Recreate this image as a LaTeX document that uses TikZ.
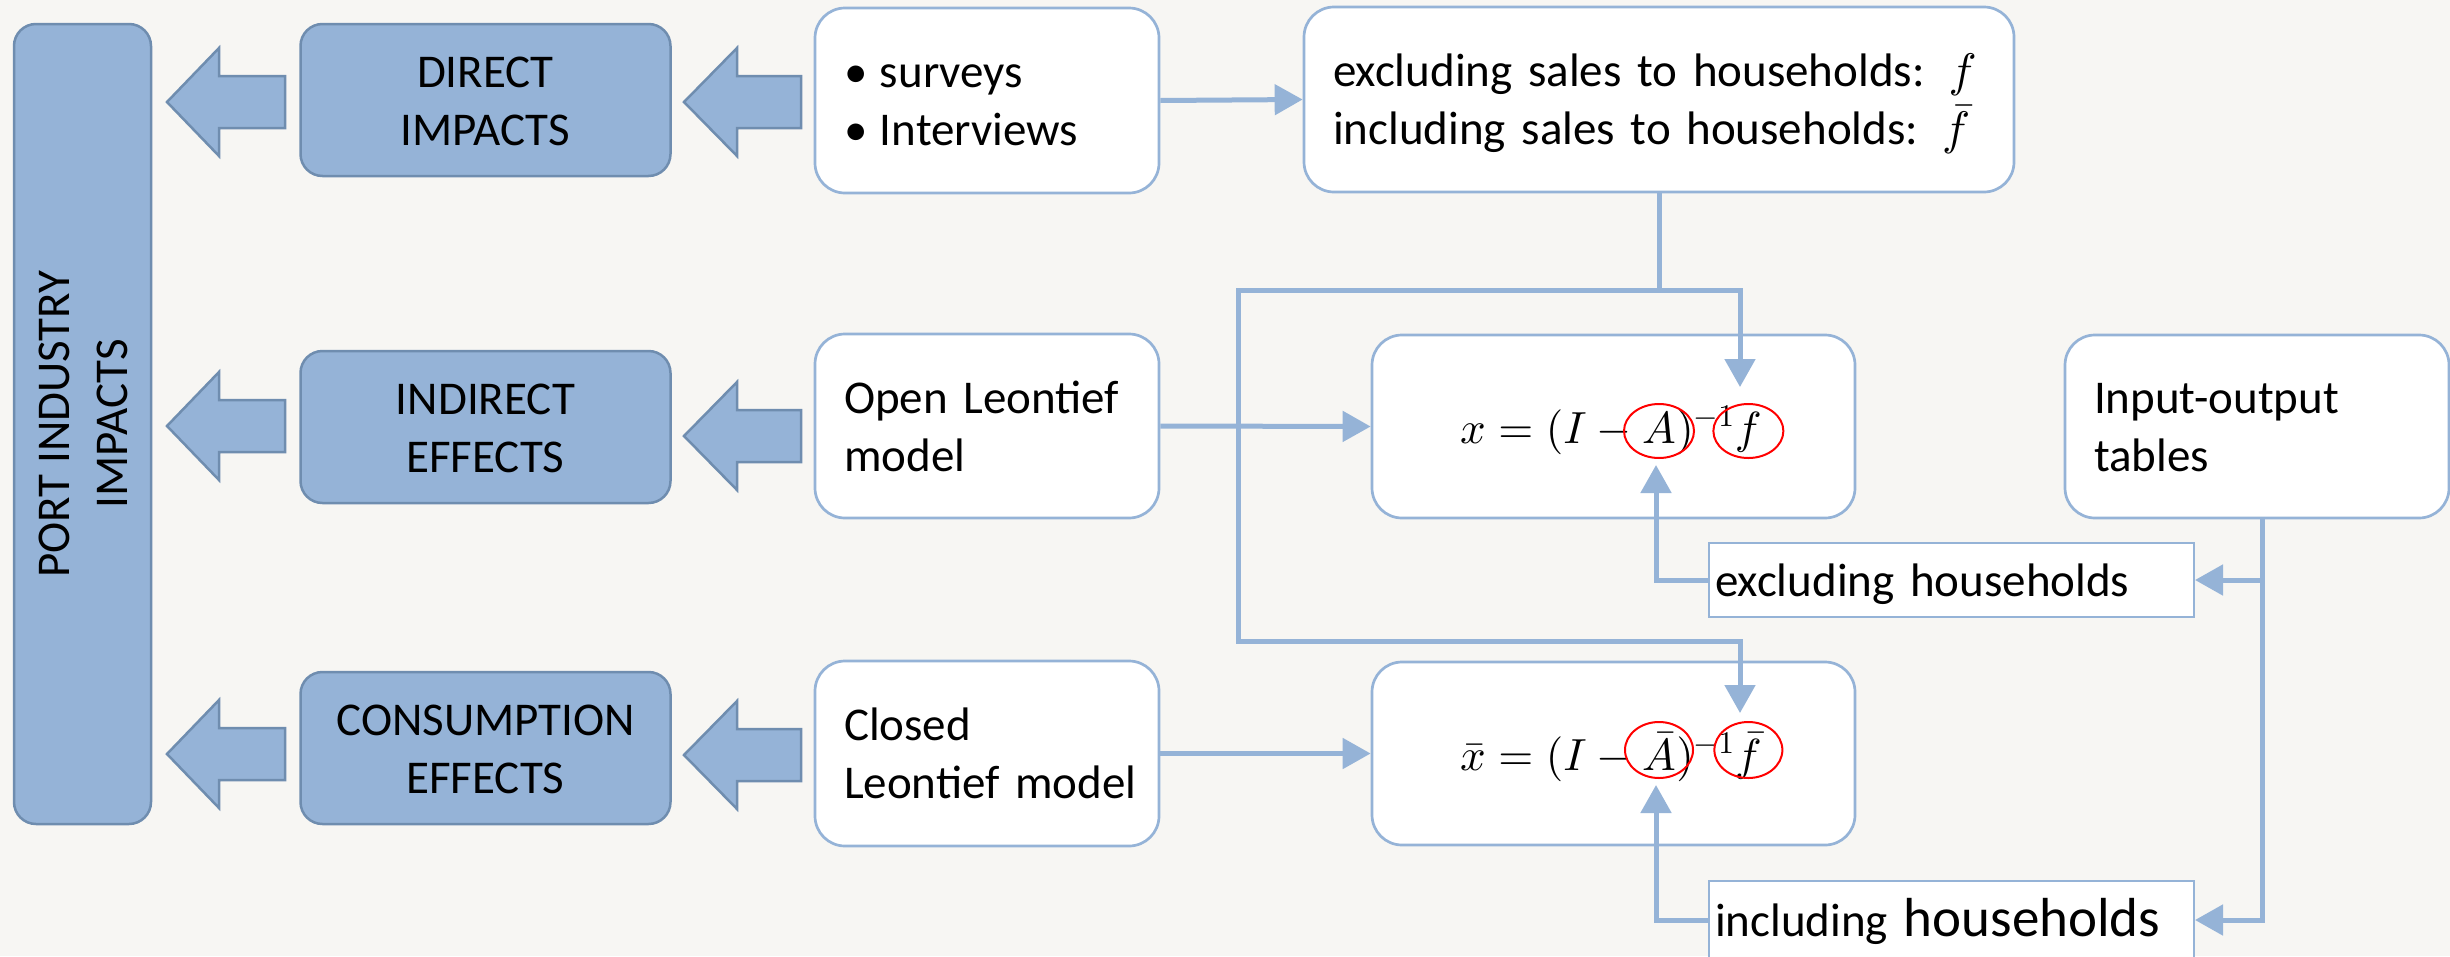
\documentclass[tikz,border=0pt]{standalone}
\usepackage{fontspec}
\setmainfont{Carlito}
\DeclareFontShape{OML}{cmm}{m}{it}{<->cmmi10}{}
\DeclareFontShape{OMS}{cmsy}{m}{n}{<->cmsy10}{}
\DeclareFontShape{OT1}{cmr}{m}{n}{<->cmr10}{}
\DeclareFontShape{OMX}{cmex}{m}{n}{<->cmex10}{}
\usetikzlibrary{arrows.meta}
\definecolor{bg}{HTML}{F7F6F3}
\definecolor{bfill}{HTML}{95B3D7}
\definecolor{bdraw}{HTML}{6F8DAF}
\definecolor{lblue}{HTML}{95B3D7}
\newcommand\ms{\rule[-13pt]{0pt}{58pt}}
\begin{document}
\begin{tikzpicture}[x=1pt,y=-1pt,
  txt/.style={font=\fontsize{47pt}{58pt}\selectfont, text=black},
  bluebox/.style={txt, draw=bdraw, fill=bfill, line width=2.5pt, rounded corners=22pt, align=center, inner sep=0pt},
  whitebox/.style={txt, draw=lblue, fill=white, line width=2.7pt, rounded corners=30pt, inner xsep=29pt, inner ysep=0pt, align=left},
  lab/.style={txt, draw=lblue, fill=white, line width=2pt, inner xsep=6pt, inner ysep=0pt, align=left},
  conn/.style={draw=lblue, line width=5pt},
  arr/.style={conn, -{Triangle[length=28pt,width=30pt]}},
  blockarrow/.style={draw=bdraw, fill=bfill, line width=2.5pt, line join=miter},
  ring/.style={draw=red, line width=2pt},
  mathpart/.style={font=\fontsize{45pt}{56pt}\selectfont, text=black, anchor=base west, inner sep=0pt}
]
\fill[bg] (0,0) rectangle (2450,956);
\useasboundingbox (0,0) rectangle (2450,956);
\clip (0,0) rectangle (2450,956);

% left bar and blue boxes
\node[bluebox, rotate=90, minimum width=800pt, minimum height=137pt] (bar) at (82.5,424) {\ms PORT INDUSTRY\\\ms IMPACTS};
\node[bluebox, minimum width=370pt, minimum height=152pt] (direct) at (485.5,100) {\ms DIRECT\\\ms IMPACTS};
\node[bluebox, minimum width=370pt, minimum height=152pt] (indirect) at (485.5,427) {\ms INDIRECT\\\ms EFFECTS};
\node[bluebox, minimum width=370pt, minimum height=152pt] (consum) at (485.5,748) {\ms CONSUMPTION\\\ms EFFECTS};

% block arrows
\foreach \t/\h/\b/\c in {167/219/285/102, 684/737/801/102, 167/219/285/426, 684/737/801/436, 167/219/285/754, 684/737/801/755}{
  \draw[blockarrow] (\t,\c) -- (\h,\c-54) -- (\h,\c-26) -- (\b,\c-26) -- (\b,\c+26) -- (\h,\c+26) -- (\h,\c+54) -- cycle;
}

% white boxes
\node[whitebox, minimum width=344pt, minimum height=185pt, text width=286pt] (surveys) at (987,100.5) {\ms\makebox[36pt][l]{\textbullet}surveys\\\ms\makebox[36pt][l]{\textbullet}Interviews};
\node[whitebox, minimum width=344pt, minimum height=184pt, text width=286pt] (open) at (987,426) {\ms Open Leontief\\\ms model};
\node[whitebox, minimum width=344pt, minimum height=185pt, text width=286pt] (closed) at (987,753.5) {\ms Closed\\\ms\mbox{Leontief model}};
\node[whitebox, minimum width=710pt, minimum height=185pt, text width=652pt] (top) at (1659,99.5) {\ms excluding sales to households: $f$\\\ms including sales to households: $\bar{f}$};
\node[whitebox, minimum width=483pt, minimum height=183pt, text width=425pt] (form1) at (1613.5,426.5) {};
\node[whitebox, minimum width=483pt, minimum height=183pt, text width=425pt] (form2) at (1613.5,753.5) {};
\node[whitebox, minimum width=384pt, minimum height=183pt, text width=326pt] (io) at (2257,426.5) {\ms Input-output\\\ms tables};
\node[lab, minimum width=485pt, minimum height=74pt, text width=473pt] (excl) at (1951.5,580) {\ms excluding households};
\node[lab, minimum width=485pt, minimum height=78pt, text width=473pt] (incl) at (1951.5,920) {\ms including {\fontsize{55pt}{58pt}\selectfont households}};

% formulas
\node[mathpart] (m1a) at (1460,443) {$x = (I -{}$};
\node[mathpart] (m1A) at (m1a.base east) {$A$};
\node[mathpart] (m1b) at (m1A.base east) {$)^{-1}$};
\node[mathpart] (m1f) at (m1b.base east) {$f$};
\draw[ring] ([yshift=12pt]m1A.base) ellipse [x radius=35, y radius=27];
\draw[ring] ([yshift=12pt]m1f.base) ellipse [x radius=35, y radius=27];

\node[mathpart] (m2a) at (1460,770) {$\bar{x} = (I -{}$};
\node[mathpart] (m2A) at (m2a.base east) {$\bar{A}$};
\node[mathpart] (m2b) at (m2A.base east) {$)^{-1}$};
\node[mathpart] (m2f) at (m2b.base east) {$\bar{f}$};
\draw[ring] ([yshift=20pt]m2A.base) ellipse [x radius=34, y radius=28];
\draw[ring] ([yshift=20pt]m2f.base) ellipse [x radius=34, y radius=28];

% connectors
\coordinate (j1) at (1659,290);
\coordinate (cl) at (1238,290);
\coordinate (cbl) at (1238,641);
\coordinate (t1) at (1740,387);
\coordinate (t2) at (1740,713);
\coordinate (u1) at (1656,465);
\coordinate (u2) at (1656,785);
\coordinate (iob) at (2262,518);

\draw[arr] (surveys.east) -- (top.west);
\draw[arr] (open.east) -- (form1.west);
\draw[arr] (closed.east) -- (form2.west);
\draw[conn] (top.south) -- (j1);
\draw[arr] (j1) -| (t1);
\draw[arr] (j1) -- (cl) -- (cbl) -| (t2);
\draw[arr] (excl.west) -| (u1);
\draw[arr] (incl.west) -| (u2);
\draw[arr] (iob) |- (incl.east);
\draw[arr] (iob |- excl.east) -- (excl.east);
\end{tikzpicture}
\end{document}
